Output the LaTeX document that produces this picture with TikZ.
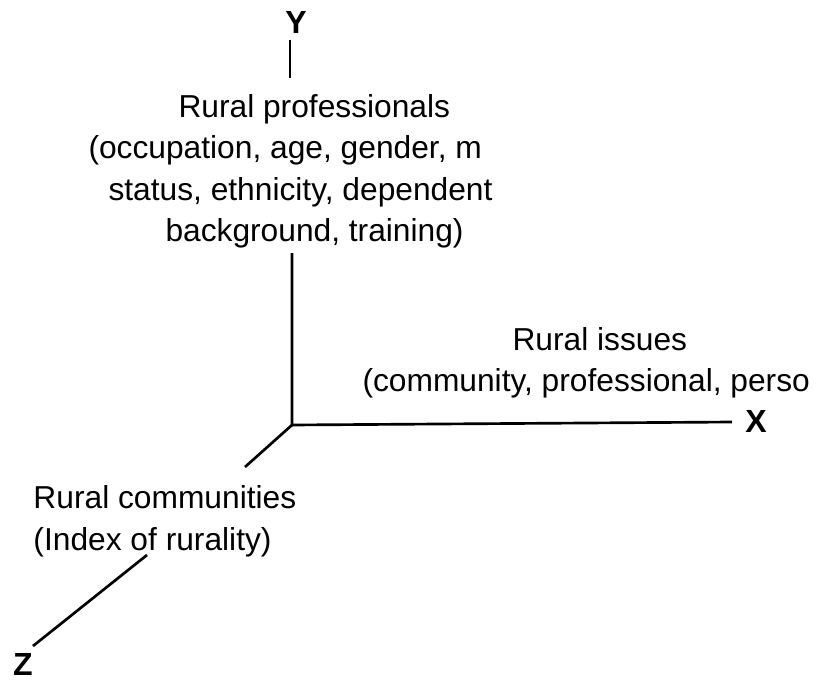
\documentclass[tikz,border=0pt]{standalone}
\usepackage{fontspec}
\setmainfont{Liberation Sans}

\tikzset{every picture/.style={line width=0.75pt}}
\tikzset{
  lbl/.style={anchor=base west, inner sep=0pt, font=\fontsize{23.8}{28}\selectfont},
  axname/.style={inner sep=0pt, font=\fontsize{24}{28}\selectfont\bfseries},
  axline/.style={line width=2pt},
}

\begin{document}
\begin{tikzpicture}[x=0.75pt,y=0.75pt,yscale=-1,xscale=1]
    \useasboundingbox (0,0) rectangle (819,682);
    % axis names
    \draw (296,22) node [axname] (ylab) {Y};
    \draw (756,421) node [axname] (xlab) {X};
    \draw (23,664) node [axname] (zlab) {Z};
    % labels
    \draw (178,117) node [lbl] (prof1) {Rural professionals};
    \draw (88,158) node [lbl] (prof2) {(occupation, age, gender, m};
    \draw (108,200) node [lbl] (prof3) {status, ethnicity, dependent};
    \draw (165,241) node [lbl] (prof4) {background, training)};
    \draw (512,350) node [lbl] (iss1) {Rural issues};
    \draw (362,391) node [lbl] (iss2) {(community, professional, perso};
    \draw (33,508) node [lbl] (com1) {Rural communities};
    \draw (33,550) node [lbl] (com2) {(Index of rurality)};
    % axes
    \coordinate (O) at (292,425);
    \coordinate (ytop) at (290,40);
    \coordinate (ybot) at (290,78);
    \coordinate (ystart) at (292,253);
    \coordinate (xend) at (732,422);
    \coordinate (zmid) at (245,467);
    \coordinate (zstart) at (147,555);
    \coordinate (zend) at (33,646);
    \draw [line width=1.6pt] (ytop) -- (ybot);
    \draw [axline] (ystart) -- (O) -- (xend);
    \draw [axline] (O) -- (zmid);
    \draw [axline] (zstart) -- (zend);
\end{tikzpicture}
\end{document}
